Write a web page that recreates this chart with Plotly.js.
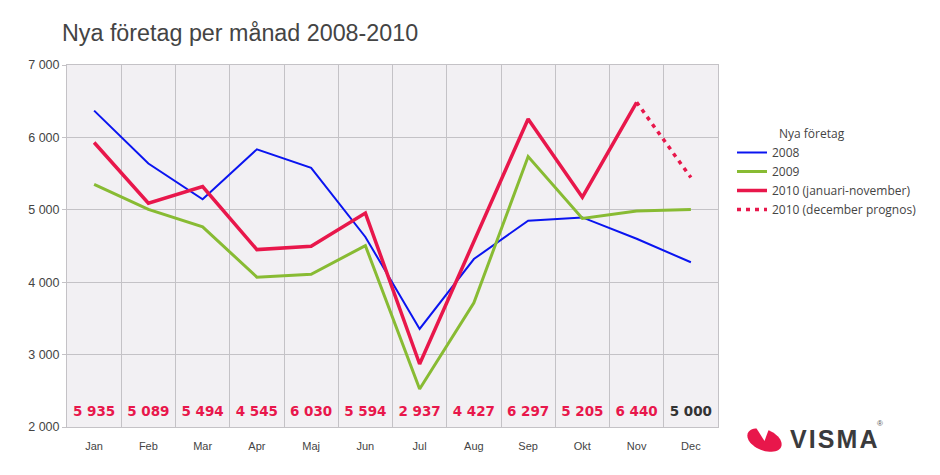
<!DOCTYPE html>
<html><head><meta charset="utf-8">
<script src="https://cdn.plot.ly/plotly-3.0.1.min.js"></script>
<style>html,body{margin:0;padding:0;background:#fff}#chart{width:940px;height:475px}</style>
</head><body><div id="chart"></div>
<script>
const months = ['Jan','Feb','Mar','Apr','Maj','Jun','Jul','Aug','Sep','Okt','Nov','Dec'];
const y2008 = [6370,5640,5145,5835,5580,4625,3355,4320,4850,4895,4600,4275];
const y2009 = [5350,5005,4765,4070,4110,4505,2525,3715,5735,4880,4985,5005];
const y2010 = [5930,5090,5320,4450,4495,4955,2870,4570,6255,5175,6485];
const decMonths = ['Nov','Dec'];
const y2010dec = [6485,5445];
const labelValues = [5935,5089,5494,4545,6030,5594,2937,4427,6297,5205,6440,5000];
const labelIsForecast = [false,false,false,false,false,false,false,false,false,false,false,true];
const yTicks = [2000,3000,4000,5000,6000,7000];

const fmt = v => String(v).replace(/\B(?=(\d{3})+(?!\d))/g, ' ');

// pixel -> paper helpers for the logo only
const L=67,R=718,T=65,B=427;
const px = x => (x-L)/(R-L);
const py = y => (B-y)/(B-T);
function ellipsePath(cx,cy,rx,ry,rot){
  let d='';
  for(let i=0;i<=48;i++){
    const t=i/48*2*Math.PI;
    const ex=rx*Math.cos(t), ey=ry*Math.sin(t);
    const xr=cx+ex*Math.cos(rot)-ey*Math.sin(rot);
    const yr=cy+ex*Math.sin(rot)+ey*Math.cos(rot);
    d+=(i?'L':'M')+px(xr).toFixed(5)+','+py(yr).toFixed(5);
  }
  return d+'Z';
}
const notch = 'M'+px(755)+','+py(426)+'L'+px(764.5)+','+py(441)+'L'+px(770)+','+py(426)+'Z';

const traces = [
  {x:months,y:y2008,name:'2008',mode:'lines',line:{color:'#0a14f0',width:2}},
  {x:months,y:y2009,name:'2009',mode:'lines',line:{color:'#88bb33',width:3}},
  {x:months.slice(0,11),y:y2010,name:'2010 (januari-november)',mode:'lines',line:{color:'#e8174b',width:3.5}},
  {x:decMonths,y:y2010dec,name:'2010 (december prognos)',mode:'lines',line:{color:'#e8174b',width:3.5,dash:'4px,5px'}},
  {x:months,y:months.map(()=>2200),text:labelValues.map(fmt),mode:'text',showlegend:false,hoverinfo:'skip',
   textfont:{family:'DejaVu Sans',size:13.5,weight:'bold',color:labelIsForecast.map(f=>f?'#333333':'#e8174b')}}
];

const layout = {
  width:940,height:475,
  margin:{l:L,r:940-R,t:T,b:475-B},
  paper_bgcolor:'#ffffff',plot_bgcolor:'#f2f0f3',
  separators:', ',
  title:{text:'Nya företag per månad 2008-2010',x:62/940,xanchor:'left',xref:'container',yref:'container',y:1-33/475,yanchor:'middle',
         font:{family:'Liberation Sans, Arial',size:23.3,color:'#444444'}},
  xaxis:{type:'category',range:[-0.5,11.5],tickson:'boundaries',showgrid:true,gridcolor:'#c4c2c6',gridwidth:1,
         ticks:'',ticklabelstandoff:9,tickfont:{family:'Liberation Sans, Arial',size:11,color:'#444444'},
         showline:true,linecolor:'#c4c2c6',linewidth:1,mirror:true,zeroline:false,fixedrange:true},
  yaxis:{range:[2000,7000],tickvals:yTicks,tickformat:',d',showgrid:true,gridcolor:'#c4c2c6',gridwidth:1,
         ticks:'outside',ticklen:4,tickcolor:'#c4c2c6',tickwidth:1,
         tickfont:{family:'Liberation Sans, Arial',size:12.5,color:'#444444'},
         showline:true,linecolor:'#c4c2c6',linewidth:1,mirror:true,zeroline:false,fixedrange:true},
  legend:{x:px(732),xanchor:'left',y:py(138),yanchor:'top',bgcolor:'rgba(0,0,0,0)',
          font:{family:'Open Sans',size:12,color:'#444444'},tracegroupgap:0,itemwidth:30},
  shapes:[
    {type:'path',xref:'paper',yref:'paper',path:ellipsePath(764.5,440,18,10.5,0.38),fillcolor:'#e8174b',line:{width:0}},
    {type:'path',xref:'paper',yref:'paper',path:notch,fillcolor:'#ffffff',line:{width:0}}
  ],
  annotations:[
    {xref:'paper',yref:'paper',x:px(777),y:py(133),xanchor:'left',yanchor:'middle',showarrow:false,
     text:'Nya företag',font:{family:'Open Sans',size:12,color:'#444444'}},
    {xref:'paper',yref:'paper',x:px(788),y:py(439),xanchor:'left',yanchor:'middle',showarrow:false,
     text:'V\u200aI\u200aS\u200aM\u200aA',font:{family:'Liberation Sans, Arial',size:25,weight:'bold',color:'#3b3b3d'}},
    {xref:'paper',yref:'paper',x:px(880),y:py(423),xanchor:'center',yanchor:'middle',showarrow:false,
     text:'®',font:{family:'Liberation Sans, Arial',size:8,color:'#555555'}}
  ]
};
Plotly.newPlot('chart',traces,layout,{displayModeBar:false,staticPlot:true});
</script></body></html>
